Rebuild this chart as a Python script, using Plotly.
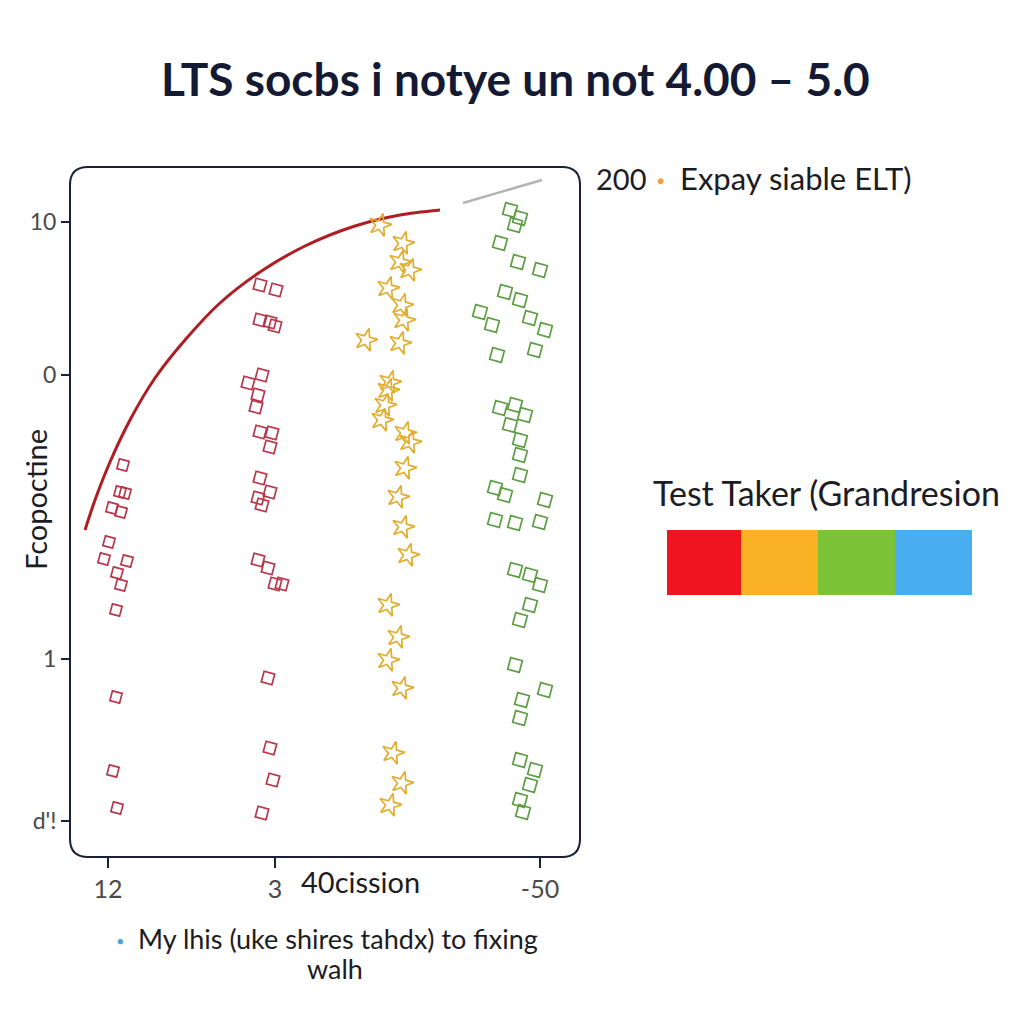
import plotly.graph_objects as go

# ---------------- data ----------------
title_text = "LTS socbs i notye un not 4.00 – 5.0"

x_tick_vals = [3.8, 20.5, 47.0]
x_tick_text = ["12", "3", "-50"]
y_tick_vals = [63.5, 48.2, 19.8, 3.6]
y_tick_text = ["10", "0", "1", "d'!"]

red1_x = [5.3, 5.0, 5.5, 4.2, 5.1, 3.9, 3.4, 5.7, 4.7, 5.1, 4.6, 4.6, 4.3, 4.7]
red1_y = [39.2, 36.5, 36.4, 34.9, 34.5, 31.5, 29.8, 29.6, 28.4, 27.2, 24.7, 16.0, 8.6, 4.9]

red2_x = [19.0, 20.6, 19.0, 20.0, 20.5, 19.2, 17.8, 18.8, 18.6, 19.0, 20.2, 20.0,
          19.0, 20.0, 18.8, 19.2, 18.8, 19.8, 21.2, 20.5, 19.8, 20.0, 20.3, 19.2]
red2_y = [57.2, 56.7, 53.7, 53.5, 53.1, 48.2, 47.4, 46.2, 45.0, 42.5, 42.4, 41.0,
          37.9, 36.5, 35.9, 35.2, 29.7, 28.9, 27.3, 27.3, 17.9, 10.9, 7.7, 4.4]

orange_x = [31.0, 33.3, 33.0, 34.0, 31.8, 33.2, 33.4, 29.6, 33.0, 32.0, 31.8, 31.5, 31.2,
            33.5, 34.0, 33.5, 32.8, 33.3, 33.8, 31.8, 32.8, 31.8, 33.2, 32.3, 33.2, 32.0]
orange_y = [63.2, 61.4, 59.5, 58.7, 56.9, 55.2, 53.7, 51.7, 51.4, 47.5, 46.7, 45.2, 43.7,
            42.4, 41.5, 38.9, 36.0, 33.0, 30.2, 25.2, 22.0, 19.7, 16.9, 10.4, 7.4, 5.2]

green_x = [44.0, 45.0, 44.5, 43.0, 44.8, 47.0, 43.5, 45.0, 41.0, 42.2, 46.0, 47.5, 46.5, 42.7,
           43.0, 44.5, 45.5, 44.0, 45.0, 45.0, 42.5, 45.0, 43.5, 47.5, 42.5, 44.5, 47.0,
           44.5, 46.0, 47.0, 46.0, 45.0, 44.5, 47.5, 45.2, 45.0, 45.0, 46.5, 46.0, 45.0, 45.3]
green_y = [64.7, 63.9, 63.2, 61.4, 59.5, 58.7, 56.5, 55.7, 54.5, 53.2, 53.9, 52.7, 50.7, 50.2,
           44.9, 45.2, 44.2, 43.2, 41.7, 40.2, 36.9, 38.2, 36.2, 35.7, 33.7, 33.4, 33.5,
           28.7, 28.2, 27.2, 25.2, 23.7, 19.2, 16.7, 15.7, 13.9, 9.7, 8.7, 7.2, 5.7, 4.5]

curve_x = [1.5, 2.5, 4.0, 6.0, 8.5, 11.5, 15.0, 19.0, 23.5, 28.5, 33.0, 37.0]
curve_y = [32.7, 35.7, 39.5, 43.7, 47.9, 51.7, 55.4, 58.5, 61.1, 63.1, 64.2, 64.7]

gray_x = [39.3, 47.2]
gray_y = [65.4, 67.7]

scale_labels = ["red", "orange", "green", "blue"]
scale_colors = ["#f0141e", "#fbb124", "#7cc33a", "#48aef0"]

# ---------------- figure ----------------
FONT = "Lato"
fig = go.Figure()

fig.add_trace(go.Scatter(x=curve_x, y=curve_y, mode="lines",
                         line=dict(color="#b01c24", width=3, shape="spline", smoothing=0.8),
                         showlegend=False, hoverinfo="skip"))
fig.add_trace(go.Scatter(x=gray_x, y=gray_y, mode="lines", line=dict(color="#b4b4b4", width=2.5),
                         showlegend=False, hoverinfo="skip"))

def pts(x, y, color, symbol, size):
    fig.add_trace(go.Scatter(
        x=x, y=y, mode="markers", showlegend=False,
        marker=dict(symbol=symbol, size=size, color=color, angle=15,
                    line=dict(color=color, width=1.7)),
    ))

pts(red1_x, red1_y, "#b8364a", "square-open", 10)
pts(red2_x, red2_y, "#b8364a", "square-open", 11)
pts(orange_x, orange_y, "#e2ad2e", "star-open", 17)
pts(green_x, green_y, "#5c9e44", "square-open", 12)

L, R, T, B = 70, 444, 167, 167
W = 1024 - L - R
H = 1024 - T - B

def px(x):
    return (x - L) / W

def py(y):
    return (1024 - B - y) / H

# rounded frame
rx, ry = 18 / W, 18 / H
path = (f"M {rx},0 L {1-rx},0 Q 1,0 1,{ry} L 1,{1-ry} Q 1,1 {1-rx},1 "
        f"L {rx},1 Q 0,1 0,{1-ry} L 0,{ry} Q 0,0 {rx},0 Z")
fig.add_shape(type="path", path=path, xref="paper", yref="paper",
              line=dict(color="#1b2038", width=2))

# colour bar
edges = [667, 741, 818, 895, 972]
for i, c in enumerate(scale_colors):
    fig.add_shape(type="rect", xref="paper", yref="paper",
                  x0=px(edges[i]), x1=px(edges[i + 1]), y0=py(595), y1=py(530),
                  line=dict(width=0), fillcolor=c)

ann = []
def text(x, y, s, size, color="#1c1c24", xanchor="center", **kw):
    ann.append(dict(x=px(x), y=py(y), xref="paper", yref="paper", text=s, showarrow=False,
                    xanchor=xanchor, yanchor="middle",
                    font=dict(family=FONT, size=size, color=color), **kw))

text(515, 78, "<b>" + title_text + "</b>", 46, "#141a33")
text(594, 178, "200", 29, xanchor="left")
text(660, 180, "●", 12, "#f0a040")
text(678, 178, "Expay siable ELT)", 31, xanchor="left")
text(826, 492, "Test Taker (Grandresion", 34)
text(360, 881, "40cission", 29)
text(35, 500, "Fcopoctine", 29, textangle=-90)
text(120, 940, "●", 11, "#4aa0d8")
text(136, 938, "My lhis (uke shires tahdx) to fixing", 27, xanchor="left")
text(335, 968, "walh", 27)

fig.update_layout(
    width=1024, height=1024,
    margin=dict(l=L, r=R, t=T, b=B, autoexpand=False),
    paper_bgcolor="white", plot_bgcolor="white",
    annotations=ann,
    xaxis=dict(range=[0, 51], tickvals=x_tick_vals, ticktext=x_tick_text,
               showgrid=False, zeroline=False, showline=False, automargin=False,
               ticks="outside", ticklen=10, tickwidth=2, tickcolor="#1b2038",
               tickfont=dict(family=FONT, size=25, color="#4a4a4a")),
    yaxis=dict(range=[0, 69], tickvals=y_tick_vals, ticktext=y_tick_text,
               showgrid=False, zeroline=False, showline=False, automargin=False,
               ticks="outside", ticklen=8, tickwidth=2, tickcolor="#1b2038",
               tickfont=dict(family=FONT, size=23, color="#4a4a4a")),
    showlegend=False,
)

fig.write_html("out.html")
